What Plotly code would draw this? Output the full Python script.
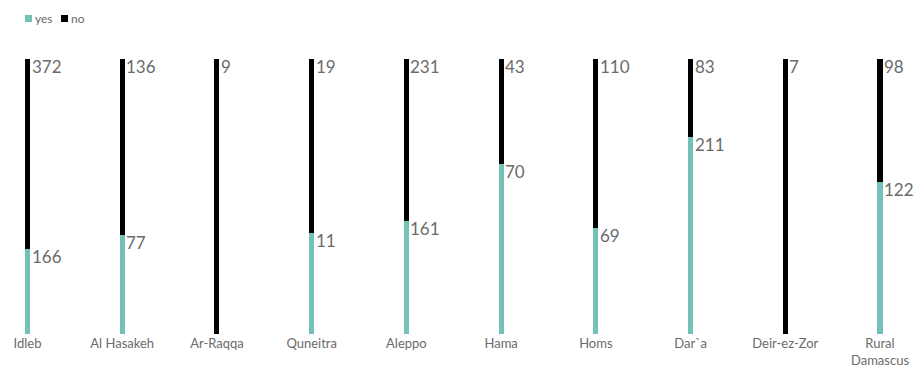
import plotly.graph_objects as go

categories = ["Idleb", "Al Hasakeh", "Ar-Raqqa", "Quneitra", "Aleppo", "Hama", "Homs", "Dar`a", "Deir-ez-Zor", "Rural<br>Damascus"]
yes_values = [166, 77, 0, 11, 161, 70, 69, 211, 0, 122]
no_values = [372, 136, 9, 19, 231, 43, 110, 83, 7, 98]
series_names = ["yes", "no"]

YES_COLOR = "#72c2b8"
NO_COLOR = "#000000"
TEXT_COLOR = "#6b6b6b"
FONT = "Lato"
W, H = 916, 367
MT, MB = 59, 33

idx = list(range(len(categories)))
fig = go.Figure()
fig.add_trace(go.Bar(x=idx, y=yes_values, name=series_names[0], marker_color=YES_COLOR, width=0.053,
                     marker_line_width=0, showlegend=False))
fig.add_trace(go.Bar(x=idx, y=no_values, name=series_names[1], marker_color=NO_COLOR, width=0.053,
                     marker_line_width=0, showlegend=False))

annotations = []
for i, (y, n) in enumerate(zip(yes_values, no_values)):
    total = y + n
    if y > 0:
        annotations.append(dict(x=i, y=y / total * 100, text=str(y), xref="x", yref="y",
                                xanchor="left", yanchor="top", xshift=2, yshift=5, showarrow=False,
                                font=dict(family=FONT, size=17, color=TEXT_COLOR)))
    if n > 0:
        annotations.append(dict(x=i, y=100, text=str(n), xref="x", yref="y",
                                xanchor="left", yanchor="top", xshift=2, yshift=5, showarrow=False,
                                font=dict(family=FONT, size=17, color=TEXT_COLOR)))

# legend drawn as small squares + text in the top margin
plot_h = H - MT - MB
def py(pix):
    return (H - MB - pix) / plot_h

shapes = []
for (name, color, x0) in zip(series_names, [YES_COLOR, NO_COLOR], [25, 61]):
    shapes.append(dict(type="rect", xref="paper", yref="paper", x0=x0 / W, x1=(x0 + 7) / W,
                       y0=py(22), y1=py(15), fillcolor=color, line_width=0))
    annotations.append(dict(x=(x0 + 8) / W, y=py(18.5), xref="paper", yref="paper", text=name,
                            xanchor="left", yanchor="middle", showarrow=False,
                            font=dict(family=FONT, size=12, color=TEXT_COLOR)))

px_per_unit = (880 - 27.5) / 9
r0 = -27.5 / px_per_unit
r1 = r0 + W / px_per_unit

fig.update_layout(
    barmode="stack", barnorm="percent",
    width=W, height=H,
    margin=dict(l=0, r=0, t=MT, b=MB),
    paper_bgcolor="white", plot_bgcolor="white",
    font=dict(family=FONT, color=TEXT_COLOR),
    showlegend=False,
    xaxis=dict(range=[r0, r1], tickmode="array", tickvals=idx, ticktext=categories,
               showgrid=False, zeroline=False, showline=False, ticks="",
               tickfont=dict(size=13, color=TEXT_COLOR), automargin=False),
    yaxis=dict(range=[0, 100], visible=False, automargin=False),
    annotations=annotations,
    shapes=shapes,
)

fig.write_html("out.html", config={"displayModeBar": False},
               post_script="document.body.style.margin='0';document.body.style.overflow='hidden';")
